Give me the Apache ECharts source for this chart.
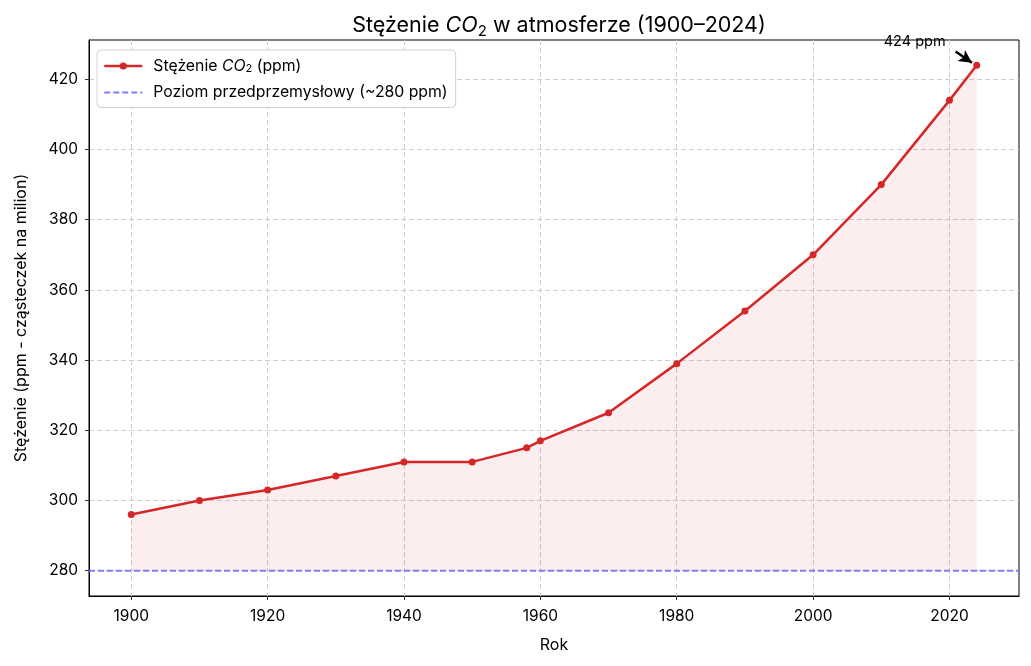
<!DOCTYPE html>
<html><head><meta charset="utf-8">
<script src="https://cdn.jsdelivr.net/npm/echarts@6/dist/echarts.min.js"></script>
<style>html,body{margin:0;padding:0;background:#fff}#c{width:1031px;height:666px}</style>
</head><body><div id="c"></div>
<script>
const years = [1900,1910,1920,1930,1940,1950,1958,1960,1970,1980,1990,2000,2010,2020,2024];
const ppm = [296,300,303,307,311,311,315,317,325,339,354,370,390,414,424];
const preindustrial = 280;
const xTicks = [1900,1920,1940,1960,1980,2000,2020];
const yTicks = [280,300,320,340,360,380,400,420];
const xMin = 1893.8, xMax = 2030.2, yMin = 272.8, yMax = 431.2;
const annotText = '424 ppm';

const FONT = 'Inter, "Open Sans", sans-serif';
const chart = echarts.init(document.getElementById('c'));
const gridLine = {show:true, lineStyle:{color:'#cfcfcf', type:[5,3], width:1}};
chart.setOption({
  animation:false,
  textStyle:{fontFamily:FONT},
  title:{
    left:554, textAlign:'center', top:8,
    text:'{a|Stężenie }{i|CO}{s|2}{a| w atmosferze (1900–2024)}',
    textStyle:{rich:{
      a:{fontSize:21.5, color:'#000', fontFamily:FONT, fontWeight:'normal', lineHeight:26, verticalAlign:'middle'},
      i:{fontSize:21.5, color:'#000', fontFamily:FONT, fontWeight:'normal', fontStyle:'italic', lineHeight:26, verticalAlign:'middle'},
      s:{fontSize:15, color:'#000', fontFamily:FONT, fontWeight:'normal', lineHeight:26, verticalAlign:'bottom', padding:[8,0,0,0]}
    }}
  },
  legend:{
    left:97, top:50, orient:'vertical',
    backgroundColor:'#fff', borderColor:'#d0d0d0', borderWidth:1, borderRadius:4,
    padding:[8,8,7,6], itemGap:10, itemWidth:38, itemHeight:9,
    data:[{name:'co2', lineStyle:{width:2.5}}, {name:'pre', lineStyle:{width:2}, itemStyle:{color:'rgba(0,0,0,0)', borderWidth:0}}],
    formatter:function(n){ return n==='co2' ? '{a|Stężenie }{i|CO}{s|2}{a| (ppm)}' : '{a|Poziom przedprzemysłowy (~280 ppm)}'; },
    textStyle:{padding:[0,0,0,6], rich:{
      a:{fontSize:15.8, color:'#000', fontFamily:FONT, lineHeight:19},
      i:{fontSize:15.8, color:'#000', fontFamily:FONT, fontStyle:'italic', lineHeight:19},
      s:{fontSize:11, color:'#000', fontFamily:FONT, padding:[6,0,0,0]}
    }}
  },
  grid:{left:89, right:12, top:40, bottom:70, show:true, borderColor:'#000', borderWidth:1},
  xAxis:{
    type:'value', min:xMin, max:xMax,
    name:'Rok', nameLocation:'middle', nameGap:41,
    nameTextStyle:{fontSize:16, color:'#000', fontFamily:FONT},
    axisLine:{show:true, onZero:false, lineStyle:{color:'#000'}},
    axisTick:{show:true, length:4, lineStyle:{color:'#333'}, customValues:xTicks},
    axisLabel:{fontSize:15.5, color:'#000', margin:12, customValues:xTicks, formatter:v=>String(v)},
    splitLine:gridLine
  },
  yAxis:{
    type:'value', min:yMin, max:yMax,
    name:'Stężenie (ppm - cząsteczek na milion)', nameLocation:'middle', nameGap:60,
    nameTextStyle:{fontSize:16, color:'#000', fontFamily:FONT},
    axisLine:{show:true, onZero:false, lineStyle:{color:'#000'}},
    axisTick:{show:true, length:4, lineStyle:{color:'#333'}, customValues:yTicks},
    axisLabel:{fontSize:15.5, color:'#000', margin:11, customValues:yTicks, formatter:v=>String(v)},
    splitLine:gridLine
  },
  series:[
    {
      name:'co2', type:'line',
      data:years.map((y,i)=>[y,ppm[i]]),
      color:'#d62728',
      lineStyle:{width:2.5, color:'#d62728'},
      symbol:'circle', symbolSize:7,
      itemStyle:{color:'#d62728'},
      areaStyle:{origin:preindustrial, color:'rgba(214,39,40,0.11)'},
      z:3,
      markLine:{
        silent:true, symbol:['none','arrow'], symbolSize:[10,13],
        lineStyle:{color:'#000', width:2.5, type:'solid'},
        label:{show:false},
        data:[[{coord:[2020.9,427.9]},{coord:[2023.3,424.7]}]]
      },
      markPoint:{
        silent:true, symbol:'circle', symbolSize:1, itemStyle:{color:'rgba(0,0,0,0)'},
        label:{show:true, formatter:annotText, color:'#000', fontSize:14.5, fontFamily:FONT, position:'inside', offset:[0,-2]},
        data:[{coord:[2014.9,430.3]}]
      }
    },
    {
      name:'pre', type:'line',
      data:[[xMin,preindustrial],[xMax,preindustrial]],
      color:'#7f7fff',
      symbol:'none', showSymbol:false,
      lineStyle:{color:'#7f7fff', width:2, type:[6,3]},
      z:2
    }
  ]
});
</script></body></html>
